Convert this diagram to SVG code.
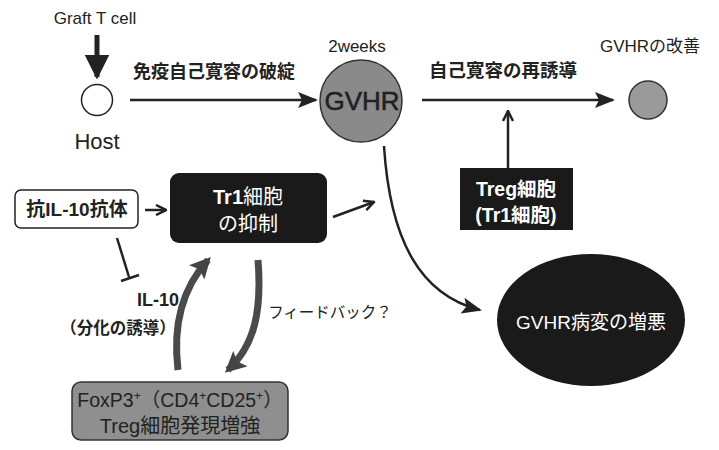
<svg xmlns="http://www.w3.org/2000/svg" width="719" height="450" viewBox="0 0 719 450">
<defs>
<marker id="ah" viewBox="0 0 10 10" refX="9" refY="5" markerWidth="5" markerHeight="5" orient="auto" markerUnits="strokeWidth"><path d="M0,0 L10,5 L0,10 Z" fill="#222"/></marker>
<marker id="ahs" viewBox="0 0 10 10" refX="9" refY="5" markerWidth="8" markerHeight="8" orient="auto" markerUnits="strokeWidth"><path d="M0,1 L10,5 L0,9 L2,5 Z" fill="#222"/></marker>
<marker id="chev" viewBox="0 0 10 10" refX="9" refY="5" markerWidth="5" markerHeight="5" orient="auto" markerUnits="strokeWidth"><path d="M1,1 L9,5 L1,9" fill="none" stroke="#222" stroke-width="2"/></marker>
<marker id="gah" viewBox="0 0 10 10" refX="8" refY="5" markerWidth="3" markerHeight="3" orient="auto" markerUnits="strokeWidth"><path d="M0,0 L10,5 L0,10 L2,5 Z" fill="#444"/></marker>
</defs>
<style>
text{font-family:"Liberation Sans","Noto Sans CJK JP",sans-serif;fill:#222;text-anchor:middle}
.b{font-weight:bold}
.w{fill:#fff}
.ln{stroke:#222;fill:none;stroke-width:2.5}
</style>
<rect width="719" height="450" fill="#fff"/>
<g id="connectors">
<line x1="97" y1="35" x2="97" y2="77" stroke="#222" stroke-width="5" marker-end="url(#ah)"/>
<line x1="130" y1="100" x2="316" y2="100" class="ln" marker-end="url(#ahs)"/>
<line x1="422" y1="100" x2="613" y2="100" class="ln" marker-end="url(#ahs)"/>
<line x1="508" y1="168" x2="508" y2="111" class="ln" marker-end="url(#chev)"/>
<path d="M384,146 C390,240 420,295 480,310" class="ln" stroke-width="2" marker-end="url(#ahs)"/>
<line x1="145" y1="210" x2="166" y2="210" class="ln" marker-end="url(#chev)"/>
<line x1="333" y1="217" x2="374" y2="202" class="ln" marker-end="url(#chev)"/>
<line x1="117" y1="238" x2="129" y2="277" class="ln"/>
<line x1="121" y1="281" x2="139" y2="275" class="ln"/>
<path d="M178,370 C172,320 185,285 208,260" fill="none" stroke="#4a4a4a" stroke-width="7" marker-end="url(#gah)"/>
<path d="M258,260 C262,310 255,345 228,370" fill="none" stroke="#4a4a4a" stroke-width="7" marker-end="url(#gah)"/>
</g>
<g id="graft"><text x="95" y="24" font-size="17">Graft T cell</text></g>
<g id="host"><circle cx="97" cy="100" r="15.5" fill="#fff" stroke="#222" stroke-width="1.5"/><text x="97" y="149" font-size="22">Host</text></g>
<g id="label1"><text x="214" y="78" font-size="18" class="b">免疫自己寛容の破綻</text></g>
<g id="gvhr"><text x="357" y="52" font-size="17">2weeks</text><circle cx="361" cy="101" r="41" fill="#8a8a8a" stroke="#333" stroke-width="1.5"/><text x="362" y="110" font-size="26" fill="#1a1a1a" stroke="#1a1a1a" stroke-width="0.5">GVHR</text></g>
<g id="label2"><text x="503" y="77" font-size="18.5" class="b">自己寛容の再誘導</text></g>
<g id="improve"><text x="650" y="52" font-size="17">GVHRの改善</text><circle cx="648" cy="100" r="19" fill="#9a9a9a" stroke="#333" stroke-width="1.5"/></g>
<g id="treg"><rect x="460" y="168" width="113" height="62" fill="#1a1a1a"/><text x="516" y="196" font-size="19.5" class="b w">Treg細胞</text><text x="516" y="222" font-size="19.5" class="b w">(Tr1細胞)</text></g>
<g id="worse"><ellipse cx="591" cy="320" rx="94" ry="66" fill="#1a1a1a"/><text x="591" y="329" font-size="19" class="w">GVHR病変の増悪</text></g>
<g id="antibody"><rect x="15" y="190" width="123" height="38" rx="6" fill="#fff" stroke="#222" stroke-width="1.5"/><text x="77" y="216" font-size="19" class="b">抗IL-10抗体</text></g>
<g id="tr1"><rect x="170" y="173" width="157" height="70" rx="9" fill="#1a1a1a"/><text x="248" y="204" font-size="20" class="w"><tspan class="b">Tr1</tspan>細胞</text><text x="248" y="231" font-size="20" class="w">の抑制</text></g>
<g id="il10"><text x="158" y="306" font-size="18" class="b">IL-10</text><text x="118" y="334" font-size="16.5" class="b">（分化の誘導）</text></g>
<g id="feedback"><text x="330" y="318" font-size="15.5">フィードバック？</text></g>
<g id="foxp3"><rect x="72" y="382" width="216" height="58" rx="9" fill="#8f8f8f" stroke="#333" stroke-width="1.5"/><text x="180" y="407" font-size="19.5" fill="#222">FoxP3<tspan font-size="12" dy="-7">+</tspan><tspan dy="7">（CD4</tspan><tspan font-size="12" dy="-7">+</tspan><tspan dy="7">CD25</tspan><tspan font-size="12" dy="-7">+</tspan><tspan dy="7">）</tspan></text><text x="180" y="433" font-size="20" fill="#222">Treg細胞発現増強</text></g>
</svg>
